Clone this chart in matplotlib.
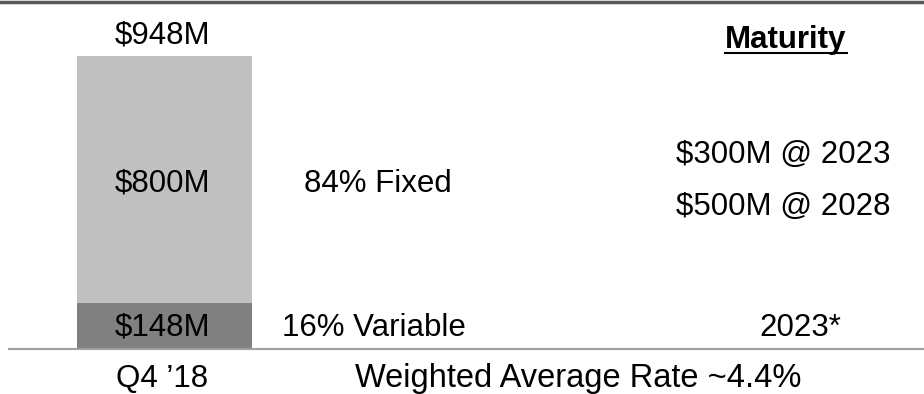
import matplotlib
matplotlib.use("Agg")
import matplotlib.pyplot as plt

plt.rcParams['font.family'] = ['Liberation Sans', 'DejaVu Sans']

category = ["Q4 \u201918"]
fixed_value = [800]
variable_value = [148]
total_label = "$948M"
fixed_label = "$800M"
variable_label = "$148M"
fixed_desc = "84% Fixed"
variable_desc = "16% Variable"
maturity_title = "Maturity"
fixed_maturities = ["$300M @ 2023", "$500M @ 2028"]
variable_maturity = "2023*"
footer = "Weighted Average Rate ~4.4%"

W, H = 924, 394
fig = plt.figure(figsize=(W / 100, H / 100), dpi=100)

bar_bottom_px = 349
ax_top_px = 0
ax = fig.add_axes([0, (H - bar_bottom_px) / H, 1, (bar_bottom_px - ax_top_px) / H])
total = fixed_value[0] + variable_value[0]
bar_top_px = 56
ymax = total * (bar_bottom_px - ax_top_px) / (bar_bottom_px - bar_top_px)
ax.set_ylim(0, ymax)
bar_w_px = 175
center_px = 164.5
ax.set_xlim(-center_px / bar_w_px, (W - center_px) / bar_w_px)
ax.axis('off')

x = [0]
ax.bar(x, variable_value, width=1.0, color="#808080", linewidth=0)
ax.bar(x, fixed_value, width=1.0, bottom=variable_value, color="#c0c0c0", linewidth=0)

fs = 22.5
def px(xp, yp):
    return xp / W, 1 - yp / H

fig.text(*px(163, 43), total_label, ha='center', va='baseline', fontsize=fs)
fig.text(*px(163, 192), fixed_label, ha='center', va='baseline', fontsize=fs)
fig.text(*px(163, 336), variable_label, ha='center', va='baseline', fontsize=fs)

fig.text(*px(378, 192), fixed_desc, ha='center', va='baseline', fontsize=fs)
fig.text(*px(282, 336), variable_desc, ha='left', va='baseline', fontsize=fs)
t = fig.text(*px(786, 48), maturity_title, ha='center', va='baseline', fontsize=fs, fontweight='bold')
fig.text(*px(783.5, 163), fixed_maturities[0], ha='center', va='baseline', fontsize=fs)
fig.text(*px(783.5, 215), fixed_maturities[1], ha='center', va='baseline', fontsize=fs)
fig.text(*px(800, 336), variable_maturity, ha='center', va='baseline', fontsize=fs)
fig.text(*px(162, 387), category[0], ha='center', va='baseline', fontsize=fs)
fig.text(*px(355, 387), footer, ha='left', va='baseline', fontsize=23.5)

# lines
fig.add_artist(plt.Line2D([0, 1], [1 - 1.5 / H, 1 - 1.5 / H], color="#595959", linewidth=2.5, transform=fig.transFigure))
fig.add_artist(plt.Line2D([9 / W, 1], [1 - 349 / H, 1 - 349 / H], color="#a0a0a0", linewidth=1.5, transform=fig.transFigure))

# underline for Maturity
fig.canvas.draw()
bb = t.get_window_extent(renderer=fig.canvas.get_renderer())
uy = H - 53
fig.add_artist(plt.Line2D([bb.x0 / W, bb.x1 / W], [uy / H, uy / H], color='black', linewidth=1.5, transform=fig.transFigure))

fig.savefig("out.png", dpi=100)
